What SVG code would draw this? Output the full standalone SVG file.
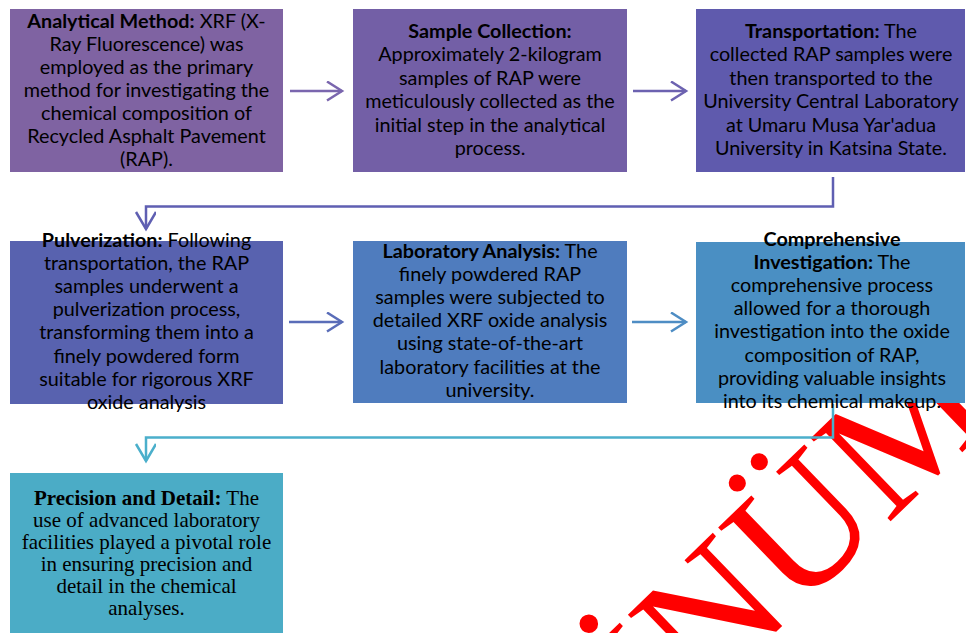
<svg xmlns="http://www.w3.org/2000/svg" width="966" height="633" viewBox="0 0 966 633">
<style>
.t{font-family:Lato,"Open Sans",sans-serif;font-size:19.8px;fill:#000;text-anchor:middle}
.s{font-family:"Liberation Serif","Times New Roman",serif;font-size:21px;fill:#000;text-anchor:middle}
.b{font-weight:bold}
.c{fill:none;stroke-width:2.5}
.wm{font-family:"Liberation Serif","Times New Roman",serif;font-size:176px;fill:#ff0000}
</style>
<defs>
<marker id="a1" markerUnits="userSpaceOnUse" markerWidth="20" markerHeight="22" refX="16" refY="10" orient="auto"><path d="M1,0.5 L16,10 L1,19.5" fill="none" stroke="#7A66AE" stroke-width="2.5"/></marker>
<marker id="a2" markerUnits="userSpaceOnUse" markerWidth="20" markerHeight="22" refX="16" refY="10" orient="auto"><path d="M1,0.5 L16,10 L1,19.5" fill="none" stroke="#6C62B0" stroke-width="2.5"/></marker>
<marker id="a3" markerUnits="userSpaceOnUse" markerWidth="22" markerHeight="22" refX="18" refY="10" orient="auto"><path d="M1,0 L18,10 L1,20" fill="none" stroke="#5F5FB2" stroke-width="2.5"/></marker>
<marker id="a4" markerUnits="userSpaceOnUse" markerWidth="20" markerHeight="22" refX="16" refY="10" orient="auto"><path d="M1,0.5 L16,10 L1,19.5" fill="none" stroke="#5A6DB8" stroke-width="2.5"/></marker>
<marker id="a5" markerUnits="userSpaceOnUse" markerWidth="20" markerHeight="22" refX="16" refY="10" orient="auto"><path d="M1,0.5 L16,10 L1,19.5" fill="none" stroke="#4E8DC4" stroke-width="2.5"/></marker>
<marker id="a6" markerUnits="userSpaceOnUse" markerWidth="22" markerHeight="22" refX="18" refY="10" orient="auto"><path d="M1,0 L18,10 L1,20" fill="none" stroke="#4BAFCB" stroke-width="2.5"/></marker>
</defs>
<rect width="966" height="633" fill="#fff"/>

<text class="wm" transform="translate(662,742) rotate(-44)">İNÜM</text>

<g id="connectors">
<path class="c" stroke="#7A66AE" d="M290,91 H342" marker-end="url(#a1)"/>
<path class="c" stroke="#6C62B0" d="M633,91 H686" marker-end="url(#a2)"/>
<path class="c" stroke="#5F5FB2" d="M833,177 V206.5 H146 V229" marker-end="url(#a3)"/>
<path class="c" stroke="#5A6DB8" d="M289,322 H342" marker-end="url(#a4)"/>
<path class="c" stroke="#4E8DC4" d="M632,322 H686" marker-end="url(#a5)"/>
<path class="c" stroke="#4BAFCB" d="M833,404 V437.5 H146 V461" marker-end="url(#a6)"/>
</g>

<g id="n1">
<rect x="10" y="9" width="273" height="163" fill="#7F63A2"/>
<text class="t"><tspan x="146.5" y="28"><tspan class="b">Analytical Method:</tspan> XRF (X-</tspan><tspan x="146.5" y="51">Ray Fluorescence) was</tspan><tspan x="146.5" y="74">employed as the primary</tspan><tspan x="146.5" y="97">method for investigating the</tspan><tspan x="146.5" y="120">chemical composition of</tspan><tspan x="146.5" y="143">Recycled Asphalt Pavement</tspan><tspan x="146.5" y="166">(RAP).</tspan></text>
</g>

<g id="n2">
<rect x="353" y="9" width="274" height="163" fill="#735FA6"/>
<text class="t"><tspan x="490" y="38" class="b">Sample Collection:</tspan><tspan x="490" y="61.4">Approximately 2-kilogram</tspan><tspan x="490" y="84.8">samples of RAP were</tspan><tspan x="490" y="108.2">meticulously collected as the</tspan><tspan x="490" y="131.6">initial step in the analytical</tspan><tspan x="490" y="155">process.</tspan></text>
</g>

<g id="n3">
<rect x="696" y="9" width="269" height="163" fill="#5F5AAD"/>
<text class="t"><tspan x="831" y="38"><tspan class="b">Transportation:</tspan> The</tspan><tspan x="831" y="61.4">collected RAP samples were</tspan><tspan x="831" y="84.8">then transported to the</tspan><tspan x="831" y="108.2">University Central Laboratory</tspan><tspan x="831" y="131.6">at Umaru Musa Yar'adua</tspan><tspan x="831" y="155">University in Katsina State.</tspan></text>
</g>

<g id="n4">
<rect x="10" y="241" width="273" height="163" fill="#5862AF"/>
<text class="t"><tspan x="146.5" y="247"><tspan class="b">Pulverization:</tspan> Following</tspan><tspan x="146.5" y="270.1">transportation, the RAP</tspan><tspan x="146.5" y="293.2">samples underwent a</tspan><tspan x="146.5" y="316.3">pulverization process,</tspan><tspan x="146.5" y="339.4">transforming them into a</tspan><tspan x="146.5" y="362.5">finely powdered form</tspan><tspan x="146.5" y="385.6">suitable for rigorous XRF</tspan><tspan x="146.5" y="408.7">oxide analysis</tspan></text>
</g>

<g id="n5">
<rect x="353" y="241" width="274" height="162" fill="#4F7CBE"/>
<text class="t"><tspan x="490" y="258"><tspan class="b">Laboratory Analysis:</tspan> The</tspan><tspan x="490" y="281.1">finely powdered RAP</tspan><tspan x="490" y="304.2">samples were subjected to</tspan><tspan x="490" y="327.3">detailed XRF oxide analysis</tspan><tspan x="490" y="350.4">using state-of-the-art</tspan><tspan x="490" y="373.5">laboratory facilities at the</tspan><tspan x="490" y="396.6">university.</tspan></text>
</g>

<g id="n6">
<rect x="696" y="242" width="269" height="161" fill="#4A8FC3"/>
<text class="t"><tspan x="832" y="246" class="b">Comprehensive</tspan><tspan x="832" y="269.1"><tspan class="b">Investigation:</tspan> The</tspan><tspan x="832" y="292.2">comprehensive process</tspan><tspan x="832" y="315.3">allowed for a thorough</tspan><tspan x="832" y="338.4">investigation into the oxide</tspan><tspan x="832" y="361.5">composition of RAP,</tspan><tspan x="832" y="384.6">providing valuable insights</tspan><tspan x="832" y="407.7">into its chemical makeup.</tspan></text>
</g>

<g id="n7">
<rect x="10" y="473" width="273" height="165" fill="#4BACC6"/>
<text class="s"><tspan x="146.5" y="505"><tspan class="b">Precision and Detail:</tspan> The</tspan><tspan x="146.5" y="527">use of advanced laboratory</tspan><tspan x="146.5" y="549">facilities played a pivotal role</tspan><tspan x="146.5" y="571">in ensuring precision and</tspan><tspan x="146.5" y="593">detail in the chemical</tspan><tspan x="146.5" y="615">analyses.</tspan></text>
</g>
</svg>
